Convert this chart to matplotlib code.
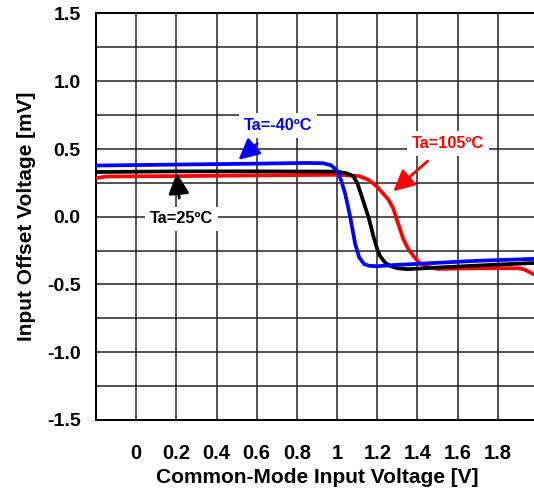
import matplotlib
matplotlib.use("Agg")
import matplotlib.pyplot as plt
import numpy as np

plt.rcParams['font.family'] = ['Liberation Sans', 'DejaVu Sans']
plt.rcParams['font.weight'] = 'bold'

# Data
x_m40 = [-0.2, 0.2, 0.6, 0.85, 0.93, 0.97, 1.0, 1.02, 1.04, 1.055, 1.065, 1.075, 1.09, 1.11, 1.135, 1.16, 1.2, 1.3, 1.5, 1.7, 2.0]
y_m40 = [0.378, 0.385, 0.392, 0.397, 0.395, 0.38, 0.34, 0.27, 0.17, 0.07, 0.0, -0.08, -0.2, -0.3, -0.35, -0.362, -0.365, -0.355, -0.34, -0.325, -0.31]

x_25 = [-0.2, 0.2, 0.6, 1.0, 1.05, 1.08, 1.1, 1.123, 1.14, 1.156, 1.17, 1.18, 1.2, 1.214, 1.24, 1.264, 1.3, 1.35, 1.5, 1.7, 2.0]
y_25 = [0.33, 0.335, 0.335, 0.333, 0.32, 0.30, 0.25, 0.15, 0.07, 0.0, -0.08, -0.14, -0.24, -0.29, -0.34, -0.363, -0.38, -0.387, -0.375, -0.36, -0.34]

x_105 = [-0.2, -0.15, 0.2, 0.6, 1.0, 1.11, 1.16, 1.2, 1.23, 1.255, 1.28, 1.297, 1.315, 1.33, 1.355, 1.38, 1.41, 1.45, 1.5, 1.7, 1.9, 1.93, 1.96, 2.0]
y_105 = [0.285, 0.297, 0.30, 0.305, 0.31, 0.30, 0.27, 0.22, 0.17, 0.127, 0.06, -0.02, -0.1, -0.167, -0.24, -0.29, -0.34, -0.37, -0.385, -0.38, -0.38, -0.388, -0.41, -0.44]

x_ticks = [0, 0.2, 0.4, 0.6, 0.8, 1.0, 1.2, 1.4, 1.6, 1.8]
x_labels = ["0", "0.2", "0.4", "0.6", "0.8", "1", "1.2", "1.4", "1.6", "1.8"]
y_ticks = [-1.5, -1.0, -0.5, 0.0, 0.5, 1.0, 1.5]
y_labels = ["-1.5", "-1.0", "-0.5", "0.0", "0.5", "1.0", "1.5"]

W, H = 534, 494
fig = plt.figure(figsize=(W / 100, H / 100), dpi=100)
ax = fig.add_axes([96 / W, (H - 420) / H, 442 / W, 406.5 / H])

ax.set_xlim(-0.2, 2.0)
ax.set_ylim(-1.5, 1.5)
ax.set_xticks(x_ticks)
ax.set_xticklabels(x_labels)
ax.set_yticks(y_ticks)
ax.set_yticklabels(y_labels)
ax.set_xticks(np.arange(-0.2, 2.01, 0.2), minor=True)
ax.set_yticks(np.arange(-1.5, 1.51, 0.25), minor=True)
ax.grid(which='both', color='#222222', lw=1.1)
ax.tick_params(which='both', length=0)
ax.tick_params(axis='x', pad=17, labelsize=14.5)
ax.tick_params(axis='y', pad=11, labelsize=14)
for s in ax.spines.values():
    s.set_linewidth(1.4)
ax.set_axisbelow(True)

ax.plot(x_105, y_105, color='#ff0000', lw=2.7, zorder=3)
ax.plot(x_25, y_25, color='#000000', lw=2.7, zorder=4)
ax.plot(x_m40, y_m40, color='#0000ff', lw=2.7, zorder=5)

ax.set_xlabel("Common-Mode Input Voltage [V]", fontsize=15, fontweight='bold', labelpad=4)
ax.set_ylabel("Input Offset Voltage [mV]", fontsize=15, fontweight='bold', labelpad=8)

def ann(text, xy, xytext, color):
    ax.annotate(text, xy=xy, xytext=xytext, color=color, fontsize=11.8, fontweight='bold',
                ha='center', va='center', zorder=6,
                bbox=dict(boxstyle='square,pad=0.3', fc='white', ec='none'),
                arrowprops=dict(arrowstyle='-|>,head_length=0.7,head_width=0.35', color=color,
                                lw=2, shrinkA=6, shrinkB=0, mutation_scale=18))

ann("Ta=-40ºC", (0.509, 0.42), (0.706, 0.671), '#0000ff')
ann("Ta=25ºC", (0.2025, 0.323), (0.224, -0.016), '#000000')
ann("Ta=105ºC", (1.28, 0.188), (1.552, 0.543), '#ff0000')

fig.savefig("out.png", dpi=100)
